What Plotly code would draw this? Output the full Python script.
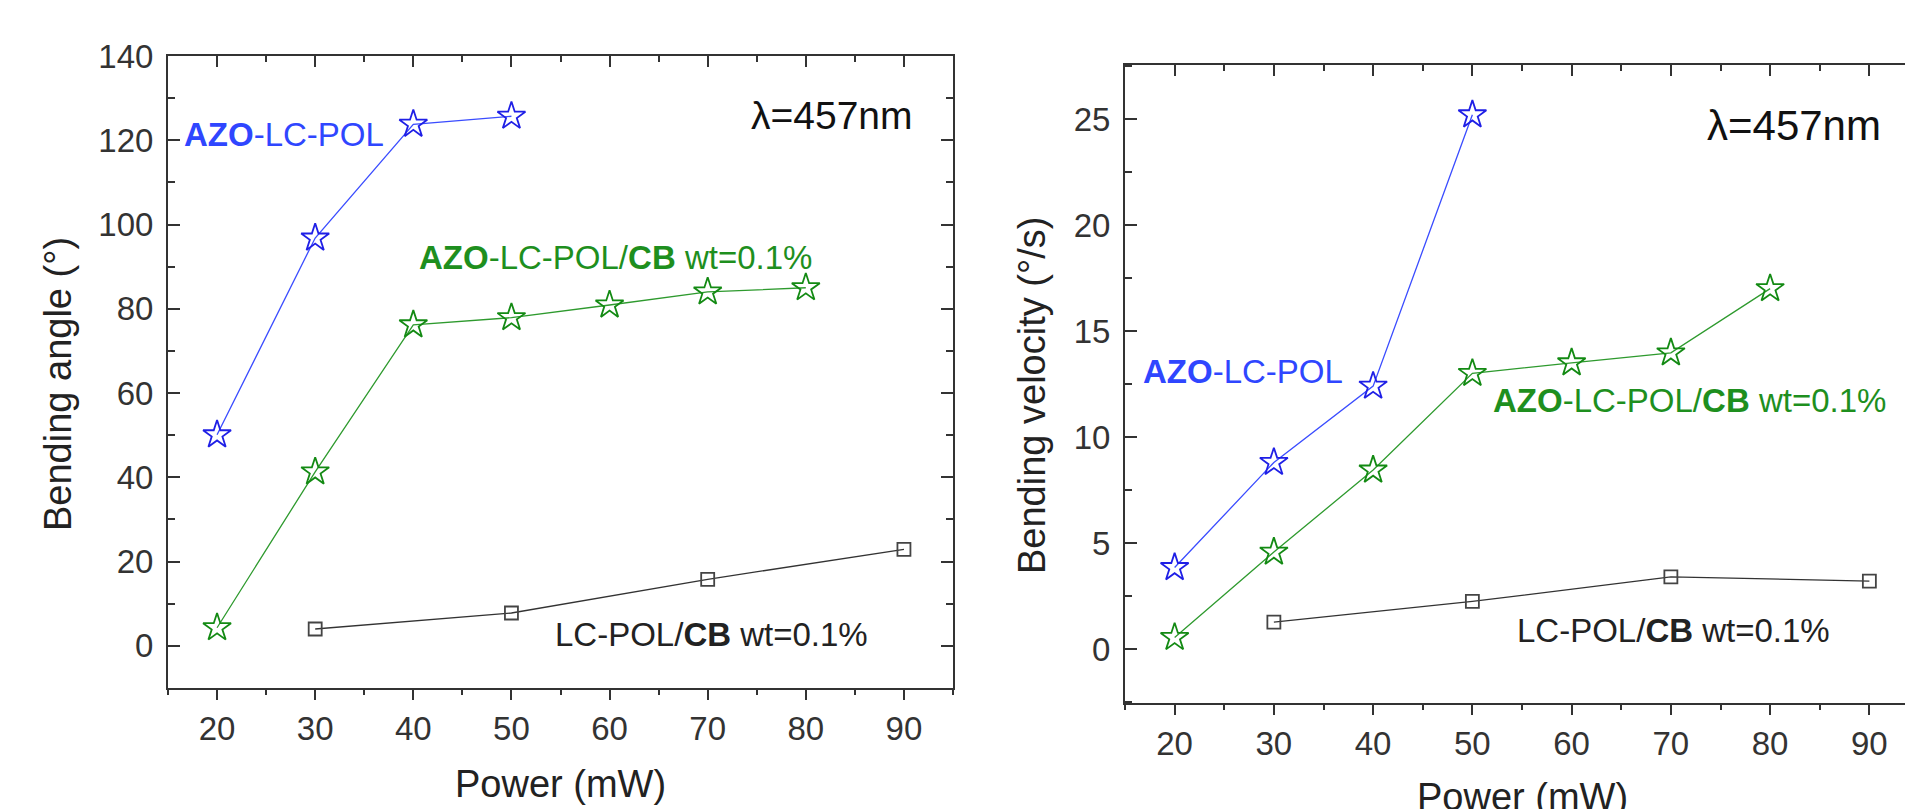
import plotly.graph_objects as go

W, H = 1913, 809
OFF = 8  # default page body margin in the browser

# ---------------- data ----------------
power_azo = [20, 30, 40, 50]
power_azo_cb = [20, 30, 40, 50, 60, 70, 80]
power_lc_cb = [30, 50, 70, 90]

angle_azo = [50.1, 96.8, 123.8, 125.7]
angle_azo_cb = [4.3, 41.3, 76.2, 77.9, 80.9, 84.0, 85.0]
angle_lc_cb = [4.0, 7.8, 15.8, 22.9]

vel_azo = [3.84, 8.8, 12.4, 25.2]
vel_azo_cb = [0.54, 4.57, 8.44, 13.0, 13.5, 13.97, 17.0]
vel_lc_cb = [1.27, 2.24, 3.4, 3.2]

x_ticks = [20, 30, 40, 50, 60, 70, 80, 90]

FONT = "Liberation Sans"
AX = "#333333"
BLUE_M = "#1f1fe6"
BLUE_L = "#3a4cff"
BLUE_T = "#2f46ff"
GREEN_M = "#138a13"
GREEN_L = "#2e9a2e"
GREEN_T = "#1e8f1e"
BLACK_M = "#444444"
BLACK_L = "#333333"
BLACK_T = "#222222"


def sx(p):
    return (p - OFF) / W


def sy(p):
    return 1 - (p - OFF) / H


fig = go.Figure()


def add_series(xs, ys, xa, ya, mcol, lcol, symbol, size):
    fig.add_trace(go.Scatter(
        x=xs, y=ys, xaxis=xa, yaxis=ya, mode="lines+markers",
        line=dict(color=lcol, width=1.3),
        marker=dict(symbol=symbol, size=size, color=mcol, line=dict(width=1.8)),
        showlegend=False, hoverinfo="skip"))


# left panel
add_series(power_azo, angle_azo, "x", "y", BLUE_M, BLUE_L, "star-open", 21)
add_series(power_azo_cb, angle_azo_cb, "x", "y", GREEN_M, GREEN_L, "star-open", 21)
add_series(power_lc_cb, angle_lc_cb, "x", "y", BLACK_M, BLACK_L, "square-open", 13)
# right panel
add_series(power_azo, vel_azo, "x2", "y2", BLUE_M, BLUE_L, "star-open", 21)
add_series(power_azo_cb, vel_azo_cb, "x2", "y2", GREEN_M, GREEN_L, "star-open", 21)
add_series(power_lc_cb, vel_lc_cb, "x2", "y2", BLACK_M, BLACK_L, "square-open", 13)
# invisible helpers for top tick axes
fig.add_trace(go.Scatter(x=[20], y=[0], xaxis="x3", yaxis="y", mode="markers",
                         marker=dict(opacity=0), showlegend=False, hoverinfo="skip"))
fig.add_trace(go.Scatter(x=[20], y=[0], xaxis="x4", yaxis="y2", mode="markers",
                         marker=dict(opacity=0), showlegend=False, hoverinfo="skip"))

tickfont = dict(family=FONT, size=33, color=AX)

left_dom_x = [sx(168), sx(953)]
left_dom_y = [sy(688), sy(56)]
right_dom_x = [sx(1125), sx(1919)]
right_dom_y = [sy(703), sy(65)]
xr_left = [15, 95]
xr_right = [15, 95]


def xaxis_bottom(dom, rng, anchor):
    return dict(domain=dom, range=rng, anchor=anchor, tickmode="array",
                tickvals=x_ticks, ticks="outside", ticklen=10, tickwidth=2,
                tickcolor=AX, minor=dict(dtick=5, tick0=0, ticks="outside",
                                         ticklen=5, tickwidth=2, tickcolor=AX),
                showline=True, linewidth=2, linecolor=AX, mirror=True,
                showgrid=False, zeroline=False, tickfont=tickfont,
                automargin=False)


def xaxis_top(dom, rng, anchor, over):
    return dict(domain=dom, range=rng, anchor=anchor, overlaying=over,
                side="top", tickmode="array", tickvals=x_ticks, ticks="inside",
                ticklen=11, tickwidth=2, tickcolor=AX,
                minor=dict(dtick=5, tick0=0, ticks="inside", ticklen=6,
                           tickwidth=2, tickcolor=AX),
                showticklabels=False, showline=False, showgrid=False,
                zeroline=False, automargin=False)


def yaxis(dom, rng, anchor, dtick, mdtick):
    return dict(domain=dom, range=rng, anchor=anchor, dtick=dtick, tick0=0,
                ticks="inside", ticklen=12, tickwidth=2, tickcolor=AX,
                minor=dict(dtick=mdtick, tick0=0, ticks="inside", ticklen=7,
                           tickwidth=2, tickcolor=AX),
                showline=True, linewidth=2, linecolor=AX, mirror="ticks",
                showgrid=False, zeroline=False, tickfont=tickfont,
                ticklabelstandoff=6, automargin=False)


fig.update_layout(
    width=W, height=H,
    margin=dict(l=0, r=0, t=0, b=0, autoexpand=False),
    paper_bgcolor="white", plot_bgcolor="white",
    font=dict(family=FONT, color=AX),
    xaxis=xaxis_bottom(left_dom_x, xr_left, "y"),
    yaxis=yaxis(left_dom_y, [-10, 140], "x", 20, 10),
    xaxis2=xaxis_bottom(right_dom_x, xr_right, "y2"),
    yaxis2=yaxis(right_dom_y, [-2.55, 27.55], "x2", 5, 2.5),
    xaxis3=xaxis_top(left_dom_x, xr_left, "y", "x"),
    xaxis4=xaxis_top(right_dom_x, xr_right, "y2", "x2"),
)

ann = []
txt = 33


def note(text, x, y, xref, yref, color, size=txt, xanchor="left"):
    ann.append(dict(text=text, x=x, y=y, xref=xref, yref=yref, showarrow=False,
                    xanchor=xanchor, yanchor="middle",
                    font=dict(family=FONT, size=size, color=color)))


# left panel labels
note("<b>AZO</b>-LC-POL", 16.4, 121.3, "x", "y", BLUE_T)
note("λ=457nm", 91.1, 125.8, "x", "y", "#111111", size=39, xanchor="right")
note("<b>AZO</b>-LC-POL/<b>CB</b> wt=0.1%", 40.4, 92.1, "x", "y", GREEN_T)
note("LC-POL/<b>CB</b> wt=0.1%", 54.2, 2.6, "x", "y", BLACK_T)
# right panel labels
note("<b>AZO</b>-LC-POL", 16.6, 13.1, "x2", "y2", BLUE_T)
note("λ=457nm", 91.4, 24.7, "x2", "y2", "#111111", size=42, xanchor="right")
note("<b>AZO</b>-LC-POL/<b>CB</b> wt=0.1%", 51.9, 11.7, "x2", "y2", GREEN_T)
note("LC-POL/<b>CB</b> wt=0.1%", 54.3, 0.88, "x2", "y2", BLACK_T)

# axis titles
title_font = dict(family=FONT, size=38, color="#222222")
ann.append(dict(text="Power (mW)", x=sx(560), y=sy(784), xref="paper",
                yref="paper", showarrow=False, xanchor="center",
                yanchor="middle", font=title_font))
ann.append(dict(text="Power (mW)", x=sx(1522), y=sy(797), xref="paper",
                yref="paper", showarrow=False, xanchor="center",
                yanchor="middle", font=title_font))
ann.append(dict(text="Bending angle (°)", x=sx(58), y=sy(384), xref="paper",
                yref="paper", showarrow=False, xanchor="center",
                yanchor="middle", textangle=-90, font=title_font))
ann.append(dict(text="Bending velocity (°/s)", x=sx(1032), y=sy(396),
                xref="paper", yref="paper", showarrow=False, xanchor="center",
                yanchor="middle", textangle=-90, font=title_font))

fig.update_layout(annotations=ann)

fig.write_html("out.html")
